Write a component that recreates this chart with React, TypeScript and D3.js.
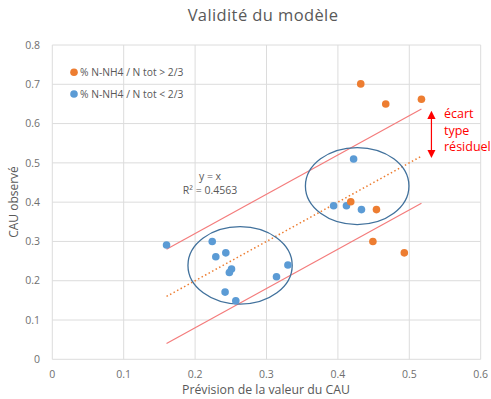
import * as d3 from 'd3';

const xTicks = [0, 0.1, 0.2, 0.3, 0.4, 0.5, 0.6];
const yTicks = [0, 0.1, 0.2, 0.3, 0.4, 0.5, 0.6, 0.7, 0.8];

// % N-NH4 / N tot < 2/3
const blueX = [0.16, 0.224, 0.229, 0.243, 0.251, 0.248, 0.242, 0.257, 0.314, 0.33, 0.394, 0.412, 0.433, 0.422];
const blueY = [0.291, 0.30, 0.261, 0.271, 0.23, 0.221, 0.171, 0.149, 0.21, 0.24, 0.391, 0.391, 0.381, 0.51];

// % N-NH4 / N tot > 2/3
const orangeX = [0.432, 0.467, 0.517, 0.418, 0.454, 0.449, 0.493];
const orangeY = [0.701, 0.65, 0.662, 0.401, 0.381, 0.30, 0.271];

const lineRange = [0.16, 0.517];
const residualSd = 0.12;

// cluster circles: cx, cy, rx, ry (data units)
const clusters = [
  [0.263, 0.239, 0.073, 0.0985],
  [0.427, 0.441, 0.0725, 0.098],
];

const font = '"Open Sans", "Noto Sans", sans-serif';
const textGray = '#595959';

export default function App() {
  const width = 491;
  const height = 399;
  const x = d3.scaleLinear().domain([0, 0.6]).range([52.3, 480.7]);
  const y = d3.scaleLinear().domain([0, 0.8]).range([359.3, 45]);

  const line = (off: number) => d3.line<number>().x(d => x(d)).y(d => y(d + off))(lineRange) ?? '';
  const arrowX = 0.531;

  return (
    <div style={{ position: 'fixed', left: 0, top: 0 }}>
      <svg width={width} height={height} style={{ display: 'block', background: '#fff', fontFamily: font }}>
        <defs>
          <marker id="ah" viewBox="0 0 10 10" refX="5" refY="5" markerWidth="7" markerHeight="7" orient="auto-start-reverse">
            <path d="M0,0 L10,5 L0,10 z" fill="#ff0000" />
          </marker>
        </defs>
        <text x={263} y={21} textAnchor="middle" fontSize={16.5} fill={textGray} letterSpacing={0.4}>Validité du modèle</text>

        {yTicks.map(t => (
          <g key={'y' + t}>
            <line x1={x(0)} x2={x(0.6)} y1={y(t)} y2={y(t)} stroke="#dcdcdc" strokeWidth={1} />
            <text x={40} y={y(t)} dy="0.35em" textAnchor="end" fontSize={10.5} fill="#6f6f6f">{t}</text>
          </g>
        ))}
        {xTicks.map(t => (
          <g key={'x' + t}>
            <line x1={x(t)} x2={x(t)} y1={y(0)} y2={y(0.8)} stroke="#dcdcdc" strokeWidth={1} />
            <text x={x(t)} y={374} dy="0.35em" textAnchor="middle" fontSize={10.5} fill="#6f6f6f">{t}</text>
          </g>
        ))}

        <text x={266} y={394} textAnchor="middle" fontSize={12.3} fill={textGray}>Prévision de la valeur du CAU</text>
        <text transform={`translate(18,${202}) rotate(-90)`} textAnchor="middle" fontSize={12} fill={textGray}>CAU observé</text>

        <path d={line(0)} fill="none" stroke="#ed7d31" strokeWidth={1.5} strokeDasharray="1.5,2.5" />
        <path d={line(residualSd)} fill="none" stroke="#f47c7c" strokeWidth={1.2} />
        <path d={line(-residualSd)} fill="none" stroke="#f47c7c" strokeWidth={1.2} />

        {clusters.map(([cx, cy, rx, ry], i) => (
          <ellipse key={i} cx={x(cx)} cy={y(cy)} rx={x(rx) - x(0)} ry={y(0) - y(ry)} fill="none" stroke="#41719c" strokeWidth={1.3} />
        ))}

        {blueX.map((v, i) => (
          <circle key={'b' + i} cx={x(v)} cy={y(blueY[i])} r={3.8} fill="#5b9bd5" />
        ))}
        {orangeX.map((v, i) => (
          <circle key={'o' + i} cx={x(v)} cy={y(orangeY[i])} r={3.8} fill="#ed7d31" />
        ))}

        <circle cx={74} cy={72.3} r={3.8} fill="#ed7d31" />
        <text x={80} y={72.3} dy="0.35em" fontSize={10.3} fill={textGray}>% N-NH4 / N tot &gt; 2/3</text>
        <circle cx={74} cy={94} r={3.8} fill="#5b9bd5" />
        <text x={80} y={94} dy="0.35em" fontSize={10.3} fill={textGray}>% N-NH4 / N tot &lt; 2/3</text>

        <text x={210} y={180} textAnchor="middle" fontSize={10.5} fill={textGray}>y = x</text>
        <text x={210} y={194} textAnchor="middle" fontSize={10.5} fill={textGray}>R² = 0.4563</text>

        <line x1={x(arrowX)} x2={x(arrowX)} y1={y(0.513) - 4} y2={y(0.632) + 4} stroke="#ff0000" strokeWidth={1.2}
          markerStart="url(#ah)" markerEnd="url(#ah)" />
        <text x={444} y={118} fontSize={12.5} fill="#ff0000">écart</text>
        <text x={444} y={134.5} fontSize={12.5} fill="#ff0000">type</text>
        <text x={444} y={151} fontSize={12.5} fill="#ff0000">résiduel</text>
      </svg>
    </div>
  );
}
